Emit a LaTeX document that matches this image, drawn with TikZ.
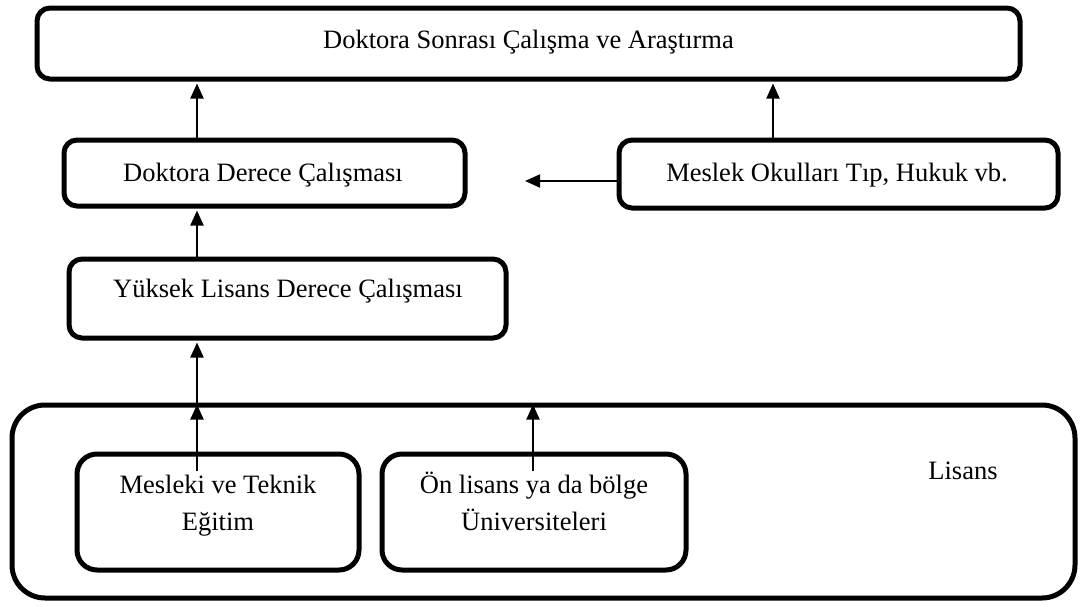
\documentclass[tikz,border=0pt]{standalone}
\usepackage{fontspec}
\setmainfont{Liberation Serif}
\usetikzlibrary{arrows.meta,calc}
\begin{document}
\begin{tikzpicture}[x=1pt,y=-1pt,
  box/.style={draw, line width=5pt, rounded corners=13pt, inner sep=0pt},
  arr/.style={line width=2pt, -{Triangle[width=13pt,length=15pt]}, shorten >=2pt},
  lbl/.style={font=\fontsize{26.5}{32}\selectfont, anchor=base, inner sep=0pt}]
\useasboundingbox (0,0) rectangle (1080,606);
% boxes
\node[box, minimum width=983pt, minimum height=71pt] (top) at (528.5,43.5) {};
\node[box, minimum width=401pt, minimum height=66pt] (dok) at (264.5,173) {};
\node[box, minimum width=439pt, minimum height=68pt] (mes) at (838.5,174) {};
\node[box, minimum width=437pt, minimum height=79pt] (yuk) at (287.5,298.5) {};
\node[box, rounded corners=33pt, minimum width=1063pt, minimum height=193pt] (lis) at (543.5,501.5) {};
\node[box, rounded corners=20pt, minimum width=282pt, minimum height=116pt] (mtek) at (218,512) {};
\node[box, rounded corners=20pt, minimum width=304pt, minimum height=116pt] (onl) at (534,512) {};
% texts
\node[lbl] (topt) at (528.5,48) {Doktora Sonrası Çalışma ve Araştırma};
\node[lbl] (dokt) at (263,181) {Doktora Derece Çalışması};
\node[lbl] (mest) at (837,181) {Meslek Okulları Tıp, Hukuk vb.};
\node[lbl] (yukt) at (288,297) {Yüksek Lisans Derece Çalışması};
\node[lbl] (list) at (963,479) {Lisans};
\node[lbl] (mtek1) at (218,493) {Mesleki ve Teknik};
\node[lbl] (mtek2) at (218,530) {Eğitim};
\node[lbl] (onl1) at (534,493) {Ön lisans ya da bölge};
\node[lbl] (onl2) at (534,530) {Üniversiteleri};
% free ends
\coordinate (m1) at (197,471);
\coordinate (o1) at (533,471);
\coordinate (mx) at (773,0);
\coordinate (mt) at (523,181);
% arrows
\draw[arr] (dok.north -| m1) -- (top.south -| m1);
\draw[arr] (mes.north -| mx) -- (top.south -| mx);
\draw[arr] (mes.west |- mt) -- (mt);
\draw[arr] (yuk.north -| m1) -- (dok.south -| m1);
\draw[arr] (lis.north -| m1) -- (yuk.south -| m1);
\draw[arr] (m1) -- (lis.north -| m1);
\draw[arr] (o1) -- (lis.north -| o1);
\end{tikzpicture}
\end{document}
